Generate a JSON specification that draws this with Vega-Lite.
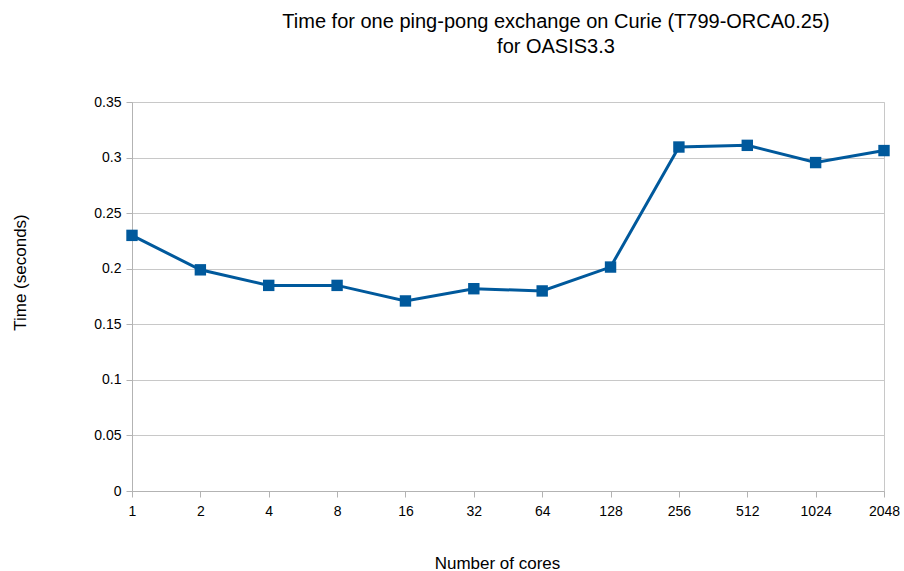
{
  "$schema": "https://vega.github.io/schema/vega-lite/v6.json",
  "autosize": "none",
  "width": 752,
  "height": 389,
  "padding": {"left": 132, "top": 102, "right": 20, "bottom": 80},
  "background": "white",
  "title": {
    "text": ["Time for one ping-pong exchange on Curie (T799-ORCA0.25)", "for OASIS3.3"],
    "font": "Liberation Sans",
    "fontSize": 20,
    "fontWeight": "normal",
    "color": "#000000",
    "anchor": "middle",
    "dx": 48,
    "offset": 38,
    "lineHeight": 25
  },
  "data": {
    "values": [
      {"cores": "1", "time": 0.230},
      {"cores": "2", "time": 0.199},
      {"cores": "4", "time": 0.185},
      {"cores": "8", "time": 0.185},
      {"cores": "16", "time": 0.171},
      {"cores": "32", "time": 0.182},
      {"cores": "64", "time": 0.180},
      {"cores": "128", "time": 0.2015},
      {"cores": "256", "time": 0.3095},
      {"cores": "512", "time": 0.311},
      {"cores": "1024", "time": 0.2955},
      {"cores": "2048", "time": 0.3063}
    ]
  },
  "mark": {
    "type": "line",
    "color": "#00599c",
    "strokeWidth": 3,
    "point": {"shape": "square", "size": 130, "filled": true, "color": "#00599c", "opacity": 1}
  },
  "encoding": {
    "x": {
      "field": "cores",
      "type": "ordinal",
      "sort": null,
      "scale": {"type": "point", "padding": 0},
      "axis": {
        "title": "Number of cores",
        "labelAngle": 0,
        "labelPadding": 7,
        "titleX": 365,
        "titleY": 72,
        "titleBaseline": "middle",
        "titleAlign": "center",
        "grid": false
      }
    },
    "y": {
      "field": "time",
      "type": "quantitative",
      "scale": {"domain": [0, 0.35], "nice": false},
      "axis": {
        "title": "Time (seconds)",
        "values": [0, 0.05, 0.1, 0.15, 0.2, 0.25, 0.3, 0.35],
        "format": "~g",
        "labelPadding": 5,
        "titleX": -112,
        "titleY": 170,
        "titleAngle": -90,
        "titleBaseline": "middle",
        "titleAlign": "center"
      }
    }
  },
  "config": {
    "view": {"stroke": "#c8c8c8", "strokeWidth": 1},
    "axis": {
      "labelFont": "Liberation Sans",
      "labelFontSize": 14,
      "labelColor": "#000000",
      "titleFont": "Liberation Sans",
      "titleFontSize": 17,
      "titleFontWeight": "normal",
      "titleColor": "#000000",
      "domainColor": "#b3b3b3",
      "tickColor": "#b3b3b3",
      "tickSize": 6,
      "gridColor": "#c8c8c8",
      "gridWidth": 1
    }
  }
}
